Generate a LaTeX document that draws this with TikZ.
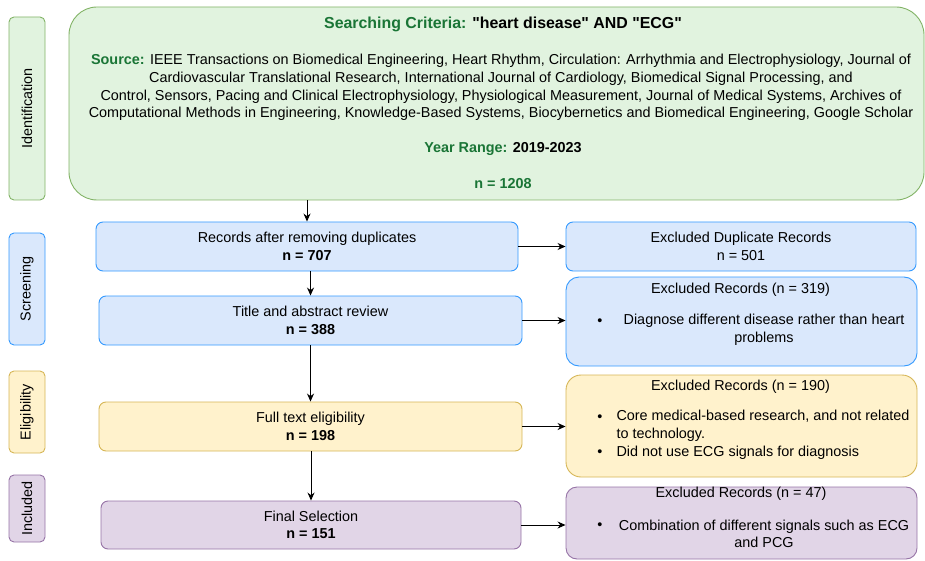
\documentclass[tikz,border=0pt]{standalone}
\usepackage{fontspec}
\setmainfont{Liberation Sans}
\usetikzlibrary{arrows.meta}
\definecolor{gfill}{HTML}{E1F3DF}
\definecolor{gdraw}{HTML}{82B366}
\definecolor{gtext}{HTML}{1A7536}
\definecolor{bfill}{HTML}{DAE8FC}
\definecolor{bdraw}{HTML}{3399FF}
\definecolor{yfill}{HTML}{FFF2CC}
\definecolor{ydraw}{HTML}{D6B656}
\definecolor{pfill}{HTML}{E1D5E7}
\definecolor{pdraw}{HTML}{9673A6}
\newcommand\bodyfont{\fontsize{14.4}{17.6}\selectfont}
\newcommand\dq{\XeTeXglyph\XeTeXcharglyph34\relax}
\begin{document}
\begin{tikzpicture}[x=1pt, y=-1pt, font=\bodyfont, line join=round, >={Stealth[length=8pt,width=7pt]},
	box/.style={draw, line width=0.9pt, inner sep=0pt},
	stage/.style={box, rotate=90, minimum height=36pt, rounded corners=5pt},
	green/.style={box, fill=gfill, draw=gdraw},
	blue/.style={box, fill=bfill, draw=bdraw},
	yellow/.style={box, fill=yfill, draw=ydraw},
	purple/.style={box, fill=pfill, draw=pdraw},
	flow/.style={->, line width=1pt}]
	\useasboundingbox (0,0) rectangle (925,561);
	% stages on the left
	\node[stage, green, minimum width=183pt] (ident) at (27,108.5) {Identification};
	\node[stage, blue, minimum width=112pt] (screen) at (27,289) {Screening};
	\node[stage, yellow, minimum width=82pt] (elig) at (27,412) {Eligibility};
	\node[stage, purple, minimum width=67pt] (incl) at (27,508.5) {Included};
	% identification
	\node[green, rounded corners=28pt, minimum width=855pt, minimum height=193pt] (search) at (496.5,103.5) {};
	\node[text=gtext, font=\fontsize{15.9}{18}\selectfont\bfseries] (crit) at (503,24) {Searching Criteria: \textcolor{black}{\dq heart disease\dq{} AND \dq ECG\dq}};
	\node[align=center] (src) at (501,87.5) {\textcolor{gtext}{\bfseries Source:} IEEE Transactions on Biomedical Engineering, Heart Rhythm, Circulation: Arrhythmia and Electrophysiology, Journal of\\
		Cardiovascular Translational Research, International Journal of Cardiology, Biomedical Signal Processing, and\\
		Control, Sensors, Pacing and Clinical Electrophysiology, Physiological Measurement, Journal of Medical Systems, Archives of\\
		Computational Methods in Engineering, Knowledge-Based Systems, Biocybernetics and Biomedical Engineering, Google Scholar};
	\node (years) at (503,149) {\bfseries\textcolor{gtext}{Year Range:} 2019-2023};
	\node[text=gtext] (total) at (503,184) {\bfseries n = 1208};
	% main flow
	\node[blue, rounded corners=7pt, minimum width=422pt, minimum height=49pt, align=center] (dedup) at (307,246.5) {Records after removing duplicates\\\textbf{n = 707}};
	\node[blue, rounded corners=7pt, minimum width=423pt, minimum height=49pt, align=center] (abstr) at (310.5,320.5) {Title and abstract review\\\textbf{n = 388}};
	\node[yellow, rounded corners=7pt, minimum width=423pt, minimum height=49pt, align=center] (full) at (310.5,426.5) {Full text eligibility\\\textbf{n = 198}};
	\node[purple, rounded corners=7pt, minimum width=420pt, minimum height=48pt, align=center] (final) at (311,525) {Final Selection\\\textbf{n = 151}};
	% exclusions
	\node[blue, rounded corners=7pt, minimum width=350pt, minimum height=49pt, align=center] (exdup) at (741,246.5) {Excluded Duplicate Records\\n = 501};
	\node[blue, rounded corners=13pt, minimum width=351pt, minimum height=89pt] (exabs) at (741.5,321.5) {};
	\node[yellow, rounded corners=15pt, minimum width=351pt, minimum height=102pt] (exfull) at (741.5,426) {};
	\node[purple, rounded corners=11pt, minimum width=351pt, minimum height=72pt] (exfin) at (741.5,523) {};
	\node (exabst) at (740.5,290) {Excluded Records (n = 319)};
	\node (exfullt) at (740.5,386.5) {Excluded Records (n = 190)};
	\node (exfint) at (741,493.5) {Excluded Records (n = 47)};
	\foreach \n/\y in {b1/322, b2/418, b3/453, b4/526} \node (\n) at (600,\y) {\textbullet};
	\node[align=center] (exabsi) at (764,330) {Diagnose different disease rather than heart\\problems};
	\node[anchor=west, align=left] (exfulli) at (613,425.5) {Core medical-based research, and not related\\to technology.};
	\node[anchor=west] (exfullj) at (613,452.5) {Did not use ECG signals for diagnosis};
	\node[align=center] (exfini) at (764,534) {Combination of different signals such as ECG\\and PCG};
	% connectors
	\draw[flow] (search.south -| dedup.north) -- (dedup.north);
	\draw[flow] (dedup.south -| abstr.north) -- (abstr.north);
	\draw[flow] (abstr) -- (full);
	\draw[flow] (full.south -| final.north) -- (final.north);
	\draw[flow] (dedup.east) -- (dedup.east -| exdup.west);
	\draw[flow] (abstr.east) -- (abstr.east -| exabs.west);
	\draw[flow] (full.east) -- (full.east -| exfull.west);
	\draw[flow] (final.east) -- (final.east -| exfin.west);
\end{tikzpicture}
\end{document}
